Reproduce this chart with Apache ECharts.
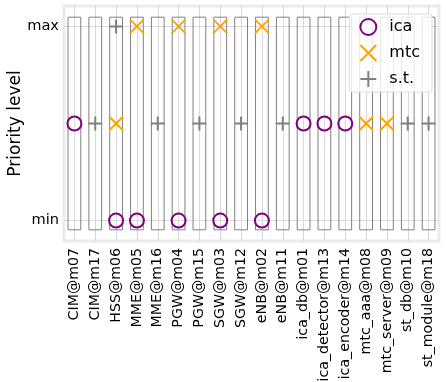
<html>
<head>
<meta charset="utf-8">
<title>Priority level</title>
<script src="https://cdn.jsdelivr.net/npm/echarts@6/dist/echarts.min.js"></script>
<style>
body { margin: 0; background: #fff; }
#chart { width: 446px; height: 382px; }
</style>
</head>
<body>
<div id="chart"></div>
<script>
// categories (services @ machines)
var categories = ['CIM@m07', 'CIM@m17', 'HSS@m06', 'MME@m05', 'MME@m16', 'PGW@m04',
	'PGW@m15', 'SGW@m03', 'SGW@m12', 'eNB@m02', 'eNB@m11', 'ica_db@m01',
	'ica_detector@m13', 'ica_encoder@m14', 'mtc_aaa@m08', 'mtc_server@m09',
	'st_db@m10', 'st_module@m18'];

// priority level per category: 0 = min, 1 = middle, 2 = max, null = none
var icaLevel = [1, null, 0, 0, null, 0, null, 0, null, 0, null, 1, 1, 1, null, null, null, null];
var mtcLevel = [null, null, 1, 2, null, 2, null, 2, null, 2, null, null, null, null, 1, 1, null, null];
var stLevel  = [null, 1, 2, null, 1, null, 1, null, 1, null, 1, null, null, null, null, null, 1, 1];

// outline boxes: bottom and height of each box
var boxLow  = [-0.1, -0.1, -0.1, -0.1, -0.1, -0.1, -0.1, -0.1, -0.1, -0.1, -0.1, -0.1, -0.1, -0.1, -0.1, -0.1, -0.1, -0.1];
var boxSpan = [2.2, 2.2, 2.2, 2.2, 2.2, 2.2, 2.2, 2.2, 2.2, 2.2, 2.2, 2.2, 2.2, 2.2, 2.2, 2.2, 2.2, 2.2];

// y tick labels
var tickValues = [0, 2];
var tickLabels = ['min', 'max'];

var FONT = 'DejaVu Sans';

var myChart = echarts.init(document.getElementById('chart'));

var option = {
	animation: false,
	textStyle: { fontFamily: FONT },
	grid: {
		left: 64, right: 7, top: 6, bottom: 141,
		outerBoundsMode: 'none',
		containLabel: false,
		show: true,
		borderColor: '#ebebeb',
		borderWidth: 3,
		backgroundColor: '#fff'
	},
	legend: {
		data: ['ica', 'mtc', 's.t.'],
		orient: 'vertical',
		right: 14,
		top: 14,
		itemWidth: 16,
		itemHeight: 16,
		itemGap: 8,
		padding: [4, 12, 4, 10],
		backgroundColor: 'rgba(255,255,255,0.8)',
		borderColor: '#dddddd',
		borderWidth: 1,
		borderRadius: 3,
		textStyle: { fontFamily: FONT, fontSize: 16, color: '#000', padding: [0, 0, 0, 8] }
	},
	xAxis: {
		type: 'category',
		data: categories,
		axisLine: { show: false },
		axisTick: { show: false },
		axisLabel: { rotate: 90, interval: 0, margin: 7, fontSize: 14.2, color: '#000', fontFamily: FONT, overflow: 'none', width: 200 },
		splitLine: { show: true, alignWithLabel: true, interval: 0, lineStyle: { color: '#d9d9d9', width: 1 } }
	},
	yAxis: {
		type: 'value',
		min: -0.21,
		max: 2.21,
		name: 'Priority level',
		nameLocation: 'middle',
		nameGap: 40,
		nameMoveOverlap: false,
		nameTextStyle: { fontSize: 17, color: '#000', fontFamily: FONT },
		axisLine: { show: false },
		axisTick: { show: false, customValues: tickValues },
		axisLabel: {
			customValues: tickValues,
			fontSize: 14.6, color: '#000', margin: 5, fontFamily: FONT,
			formatter: function (v) {
				var i = tickValues.indexOf(v);
				return i >= 0 ? tickLabels[i] : '';
			}
		},
		splitLine: { show: true, lineStyle: { color: '#d9d9d9', width: 1 } }
	},
	series: [
		{
			name: 'boxBase',
			type: 'bar',
			stack: 'box',
			stackStrategy: 'all',
			barWidth: '66%',
			silent: true,
			itemStyle: { color: 'rgba(0,0,0,0)' },
			data: boxLow
		},
		{
			name: 'box',
			type: 'bar',
			stack: 'box',
			stackStrategy: 'all',
			barWidth: '66%',
			silent: true,
			itemStyle: { color: 'rgba(0,0,0,0)', borderColor: '#808080', borderWidth: 1 },
			data: boxSpan
		},
		{
			name: 'ica',
			type: 'scatter',
			z: 5,
			symbol: 'circle',
			symbolSize: 14,
			itemStyle: { color: 'rgba(0,0,0,0)', borderColor: '#800080', borderWidth: 2, opacity: 1 },
			data: icaLevel
		},
		{
			name: 'mtc',
			type: 'scatter',
			z: 5,
			symbol: 'path://M0,0L10,10M10,0L0,10',
			symbolSize: 14,
			itemStyle: { color: 'rgba(0,0,0,0)', borderColor: '#ffa500', borderWidth: 2, opacity: 1 },
			data: mtcLevel
		},
		{
			name: 's.t.',
			type: 'scatter',
			z: 5,
			symbol: 'path://M5,0L5,10M0,5L10,5',
			symbolSize: 14,
			itemStyle: { color: 'rgba(0,0,0,0)', borderColor: '#808080', borderWidth: 2, opacity: 1 },
			data: stLevel
		}
	]
};

myChart.setOption(option);
</script>
</body>
</html>
